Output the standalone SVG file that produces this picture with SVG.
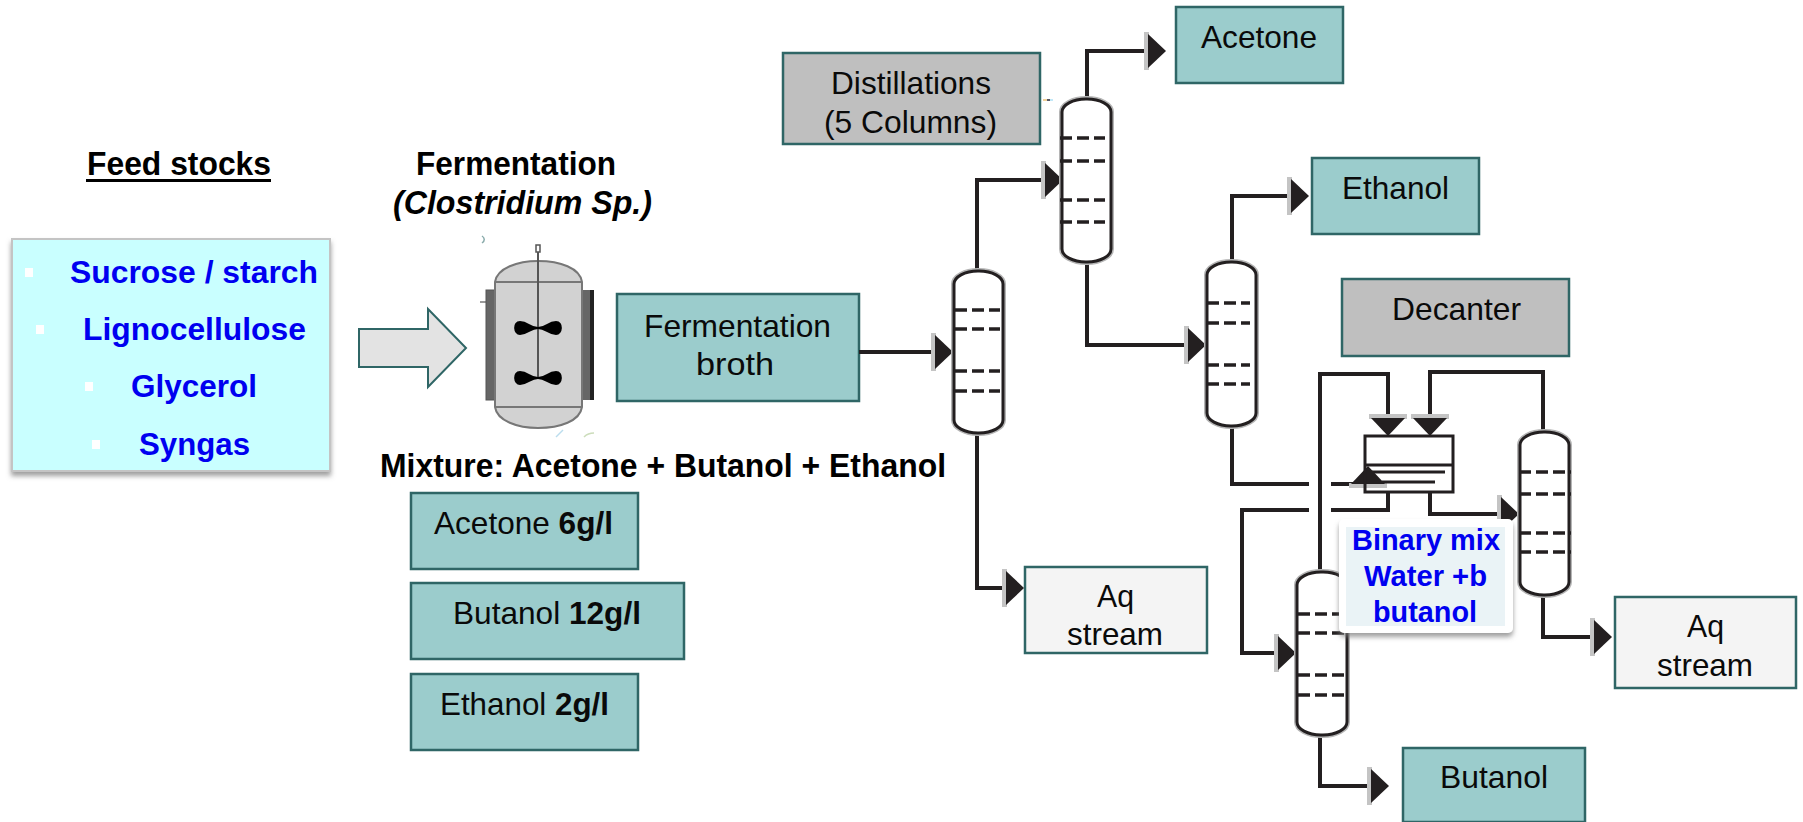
<svg xmlns="http://www.w3.org/2000/svg" width="1803" height="822" viewBox="0 0 1803 822">
<style>
text{font-family:"Liberation Sans",Arial,sans-serif;font-size:32px;fill:#0a0a0a}
.b{font-weight:bold;font-size:32.500px;fill:#000}
.i{font-style:italic}
.blue{font-weight:bold;fill:#0000f0;font-size:31.500px}
.bm{font-size:29px}
.box{stroke:#2f6666;stroke-width:2.5}
.teal{fill:#9bcccc}
.grey{fill:#bfbfbf}
.aq{fill:#f4f4f4}
.wall{fill:#fff;stroke:#231f20;stroke-width:3}
.halo{fill:none;stroke:#b5b5b5;stroke-width:6}
.tray{stroke:#231f20;stroke-width:3.500;stroke-dasharray:12 5;fill:none}
.line{fill:none;stroke:#231f20;stroke-width:4;marker-end:url(#head)}
.plain{fill:none;stroke:#231f20;stroke-width:4}
.thin{fill:none;stroke:#231f20;stroke-width:3}
.bullet{fill:#fff}
.steel{fill:#d2d2d2;stroke:#777;stroke-width:2}
</style>
<defs>
<marker id="head" markerUnits="userSpaceOnUse" viewBox="-4 -2 22 38" markerWidth="22" markerHeight="38" refX="12" refY="17" orient="auto">
<rect x="-4" y="-2" width="5" height="38" fill="#c4c4c4"/>
<polygon points="0,0 18,17 0,34" fill="#231f20"/>
</marker>
<filter id="sh" x="-5%" y="-5%" width="110%" height="115%"><feDropShadow dx="0" dy="4" stdDeviation="2.5" flood-color="#777" flood-opacity="0.7"/></filter>
</defs>
<rect width="1803" height="822" fill="#fff"/>

<g id="feed-title"><text class="b" x="87" y="175" textLength="184" lengthAdjust="spacingAndGlyphs">Feed stocks</text><rect x="86" y="179" width="185" height="3" fill="#000"/></g>
<g id="feed-box">
<rect x="12" y="239" width="318" height="232" fill="#c9ffff" stroke="#c4c4c4" stroke-width="2" filter="url(#sh)"/>
<rect class="bullet" x="25" y="268" width="8" height="9"/><rect class="bullet" x="36" y="325" width="8" height="9"/><rect class="bullet" x="85" y="382" width="8" height="9"/><rect class="bullet" x="92" y="440" width="8" height="9"/>
<text class="blue" x="70" y="283" textLength="248" lengthAdjust="spacingAndGlyphs">Sucrose / starch</text>
<text class="blue" x="83" y="340" textLength="223" lengthAdjust="spacingAndGlyphs">Lignocellulose</text>
<text class="blue" x="131" y="397" textLength="126" lengthAdjust="spacingAndGlyphs">Glycerol</text>
<text class="blue" x="139" y="455" textLength="111" lengthAdjust="spacingAndGlyphs">Syngas</text>
</g>
<g id="feed-arrow"><polygon points="359,329 428,329 428,309 466,348 428,387 428,367 359,367" fill="#e3e3e3" stroke="#2f6666" stroke-width="2"/></g>

<g id="fermentation-title">
<text class="b" x="416" y="175" textLength="200" lengthAdjust="spacingAndGlyphs">Fermentation</text>
<text class="b i" x="393" y="214" textLength="259" lengthAdjust="spacingAndGlyphs">(Clostridium Sp.)</text>
</g>
<g id="reactor">
<path d="M480 302H486" stroke="#777" stroke-width="1.500"/>
<rect x="486" y="290" width="10" height="110" fill="#666" stroke="#555"/>
<rect x="581" y="290" width="10" height="110" fill="#666"/><rect x="590" y="290" width="4" height="110" fill="#222"/>
<path class="steel" d="M495 282C497 268 518 261 538 261C560 261 580 268 582 282V407C580 421 560 428 538 428C518 428 497 421 495 407Z"/>
<path d="M495 282H582M495 407H582" stroke="#777" stroke-width="2"/>
<path d="M538 252V378" stroke="#555" stroke-width="2"/>
<rect x="536" y="245" width="4" height="7" fill="#fff" stroke="#555" stroke-width="1.500"/>
<path d="M538 328C530 328 528 322 520 322C513 322 514 334 520 334C528 334 530 328 538 328C546 328 548 322 556 322C563 322 562 334 556 334C548 334 546 328 538 328Z" fill="#000" stroke="#000" stroke-width="2"/>
<path d="M538 378C530 378 528 372 520 372C513 372 514 384 520 384C528 384 530 378 538 378C546 378 548 372 556 372C563 372 562 384 556 384C548 384 546 378 538 378Z" fill="#000" stroke="#000" stroke-width="2"/>
<path d="M482 236C485 238 485 241 482 243" fill="none" stroke="#8aa" stroke-width="1.500"/>
<path d="M556 437L563 430" stroke="#bde" stroke-width="1.500"/><path d="M584 437C587 434 590 433 594 433" fill="none" stroke="#cdb" stroke-width="1.500"/>
</g>
<g id="fermentation-broth"><rect class="box teal" x="617" y="294" width="242" height="107"/>
<text x="644" y="337" textLength="187" lengthAdjust="spacingAndGlyphs">Fermentation</text><text x="696" y="375" textLength="78" lengthAdjust="spacingAndGlyphs">broth</text></g>
<g id="mixture-label"><text class="b" x="380" y="477" textLength="566" lengthAdjust="spacingAndGlyphs">Mixture: Acetone + Butanol + Ethanol</text></g>
<g id="acetone-conc"><rect class="box teal" x="411" y="493" width="227" height="76"/><text x="434" y="534" textLength="179" lengthAdjust="spacingAndGlyphs">Acetone <tspan font-weight="bold">6g/l</tspan></text></g>
<g id="butanol-conc"><rect class="box teal" x="411" y="583" width="273" height="76"/><text x="453" y="624" textLength="188" lengthAdjust="spacingAndGlyphs">Butanol <tspan font-weight="bold">12g/l</tspan></text></g>
<g id="ethanol-conc"><rect class="box teal" x="411" y="674" width="227" height="76"/><text x="440" y="715" textLength="169" lengthAdjust="spacingAndGlyphs">Ethanol <tspan font-weight="bold">2g/l</tspan></text></g>

<g id="distillations"><rect class="box grey" x="783" y="53" width="257" height="91"/>
<text x="831" y="94" textLength="160" lengthAdjust="spacingAndGlyphs">Distillations</text><text x="824" y="133" textLength="173" lengthAdjust="spacingAndGlyphs">(5 Columns)</text>
<path d="M1043 100H1047" stroke="#eec27a" stroke-width="1.500"/><path d="M1047 100H1050" stroke="#223" stroke-width="1.500"/><path d="M1050 100H1053" stroke="#aee0f5" stroke-width="1.500"/></g>
<g id="acetone"><rect class="box teal" x="1176" y="7" width="167" height="76"/><text x="1201" y="48" textLength="116" lengthAdjust="spacingAndGlyphs">Acetone</text></g>
<g id="ethanol"><rect class="box teal" x="1312" y="158" width="167" height="76"/><text x="1342" y="199" textLength="107" lengthAdjust="spacingAndGlyphs">Ethanol</text></g>
<g id="decanter-label"><rect class="box grey" x="1342" y="279" width="227" height="77"/><text x="1392" y="320" textLength="129" lengthAdjust="spacingAndGlyphs">Decanter</text></g>
<g id="aq-1"><rect class="box aq" x="1025" y="567" width="182" height="86"/><text x="1097" y="607" textLength="37" lengthAdjust="spacingAndGlyphs">Aq</text><text x="1067" y="645" textLength="96" lengthAdjust="spacingAndGlyphs">stream</text></g>
<g id="aq-2"><rect class="box aq" x="1615" y="597" width="181" height="91"/><text x="1687" y="637" textLength="37" lengthAdjust="spacingAndGlyphs">Aq</text><text x="1657" y="676" textLength="96" lengthAdjust="spacingAndGlyphs">stream</text></g>
<g id="butanol"><rect class="box teal" x="1403" y="748" width="182" height="74"/><text x="1440" y="788" textLength="108" lengthAdjust="spacingAndGlyphs">Butanol</text></g>

<g id="connectors">
<path class="line" d="M859 352H947"/>
<path class="line" d="M977 271V180H1057"/>
<path class="line" d="M977 433V588H1018"/>
<path class="line" d="M1087 99V51H1160"/>
<path class="line" d="M1087 262V345H1200"/>
<path class="line" d="M1232 262V196H1303"/>
<path class="plain" d="M1232 426V484H1309"/>
<path class="line" d="M1331 484H1368V472"/>
<path class="line" d="M1320 572V374H1388V430"/>
<path class="line" d="M1543 432V372H1430V430"/>
<path class="plain" d="M1388 492V510H1331"/>
<path class="line" d="M1309 510H1242V653H1290"/>
<path class="line" d="M1430 492V514H1513"/>
<path class="line" d="M1320 735V786H1383"/>
<path class="line" d="M1543 595V637H1606"/>
</g>

<g id="column-1"><rect class="halo" x="954" y="271" width="49" height="162" rx="24" ry="13"/><rect class="wall" x="954" y="271" width="49" height="162" rx="24" ry="13"/><path class="tray" d="M955 310H1000M955 329H1000M955 371H1000M955 391H1000"/></g>
<g id="column-2"><rect class="halo" x="1062" y="99" width="49" height="163" rx="24" ry="13"/><rect class="wall" x="1062" y="99" width="49" height="163" rx="24" ry="13"/><path class="tray" d="M1060 138H1105M1060 161H1105M1060 200H1105M1060 222H1105"/></g>
<g id="column-3"><rect class="halo" x="1207" y="262" width="49" height="164" rx="24" ry="13"/><rect class="wall" x="1207" y="262" width="49" height="164" rx="24" ry="13"/><path class="tray" d="M1207 303H1250M1207 323H1250M1207 365H1250M1207 384H1250"/></g>
<g id="column-4"><rect class="halo" x="1520" y="432" width="49" height="163" rx="24" ry="13"/><rect class="wall" x="1520" y="432" width="49" height="163" rx="24" ry="13"/><path class="tray" d="M1519 472H1571M1519 494H1571M1519 533H1571M1519 552H1571"/></g>
<g id="column-5"><rect class="halo" x="1297" y="572" width="50" height="163" rx="24" ry="13"/><rect class="wall" x="1297" y="572" width="50" height="163" rx="24" ry="13"/><path class="tray" d="M1298 614H1348M1298 633H1348M1298 675H1348M1298 695H1348"/></g>

<g id="decanter-vessel">
<rect x="1365" y="436" width="88" height="56" fill="none" stroke="#231f20" stroke-width="3"/>
<path class="thin" d="M1365 465H1453M1372 472H1445M1382 482H1435"/>
</g>

<g id="binary-mix">
<rect x="1339" y="519" width="174" height="114" rx="5" fill="#fff" filter="url(#sh)"/>
<rect x="1346" y="527" width="159" height="99" fill="#eaf3f6"/>
<text class="blue bm" x="1352" y="550" textLength="148" lengthAdjust="spacingAndGlyphs">Binary mix</text>
<text class="blue bm" x="1364" y="586" textLength="123" lengthAdjust="spacingAndGlyphs">Water +b</text>
<text class="blue bm" x="1373" y="622" textLength="104" lengthAdjust="spacingAndGlyphs">butanol</text>
</g>
</svg>
